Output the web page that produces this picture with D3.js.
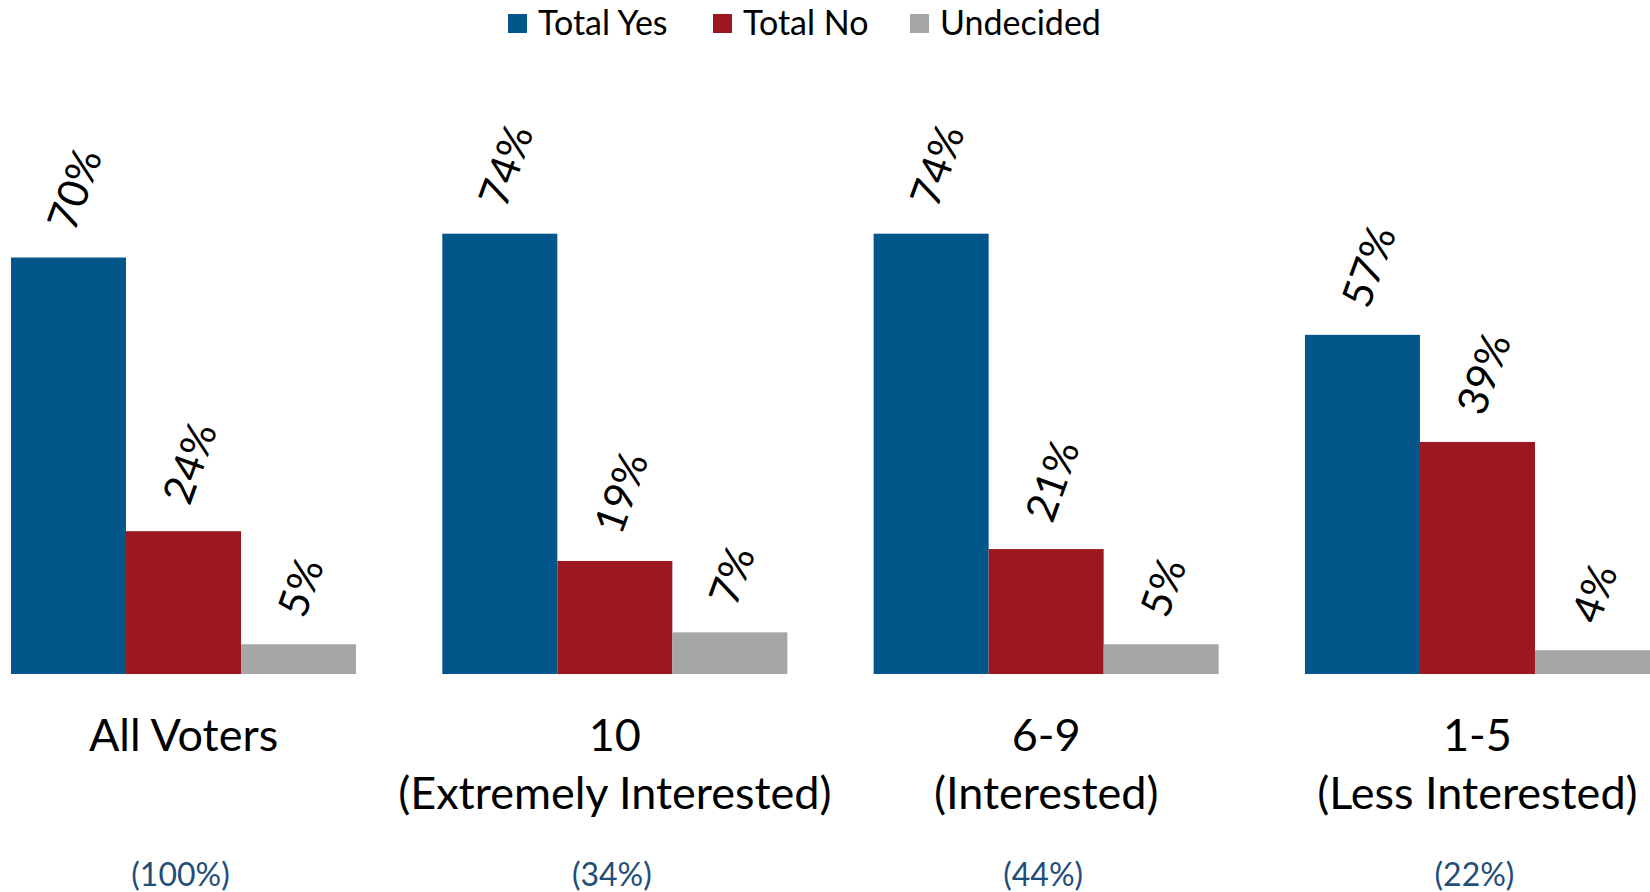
<!DOCTYPE html>
<html>
<head>
<meta charset="utf-8">
<script src="https://cdn.jsdelivr.net/npm/d3@7"></script>
<style>
  body { margin: 0; background: #fff; }
  text { font-family: Lato, "Open Sans", sans-serif; }
</style>
</head>
<body>
<div id="chart"></div>
<script>
// chart data
var groups = ["All Voters", "10", "6-9", "1-5"];
var groupSub = ["", "(Extremely Interested)", "(Interested)", "(Less Interested)"];
var groupShare = ["(100%)", "(34%)", "(44%)", "(22%)"];
var seriesNames = ["Total Yes", "Total No", "Undecided"];
var totalYes = [70, 74, 74, 57];
var totalNo = [24, 19, 21, 39];
var undecided = [5, 7, 5, 4];

var colors = ["#02568A", "#9B191E", "#A6A6A6"];

var svgWidth = 1650;
var svgHeight = 892;

var svg = d3.select("#chart")
  .append("svg")
  .attr("width", svgWidth)
  .attr("height", svgHeight);

// rows for the grouped bars
var rows = groups.map(function(g, i) {
  return { group: g, values: [totalYes[i], totalNo[i], undecided[i]] };
});

var x0 = d3.scaleBand()
  .domain(groups)
  .range([11, 1650])
  .paddingInner(0.2)
  .paddingOuter(0);

var x1 = d3.scaleBand()
  .domain(seriesNames)
  .range([0, x0.bandwidth()]);

var y = d3.scaleLinear()
  .domain([0, 100])
  .range([674, 79]);

var groupG = svg.selectAll("g.group")
  .data(rows)
  .enter()
  .append("g")
  .attr("class", "group")
  .attr("transform", d => `translate(${x0(d.group)},0)`);

var bars = groupG.selectAll("g.bar")
  .data(d => d.values.map((v, j) => ({ key: seriesNames[j], value: v, idx: j })))
  .enter()
  .append("g")
  .attr("class", "bar");

bars.append("rect")
  .attr("x", d => x1(d.key))
  .attr("y", d => y(d.value))
  .attr("width", x1.bandwidth())
  .attr("height", d => y(0) - y(d.value))
  .attr("fill", d => colors[d.idx]);

// rotated value labels
bars.append("text")
  .attr("transform", d => `translate(${x1(d.key) + x1.bandwidth() / 2 - 9},${y(d.value) - 30}) rotate(-70)`)
  .attr("dominant-baseline", "central")
  .style("font-size", "42px")
  .style("fill", "#000")
  .text(d => d.value + "%");

// category labels
var catG = svg.append("g");
groups.forEach(function(g, i) {
  var cx = x0(g) + x0.bandwidth() / 2;
  catG.append("text")
    .attr("x", cx)
    .attr("y", 751)
    .attr("text-anchor", "middle")
    .style("font-size", "45px")
    .style("fill", "#000")
    .text(g);
  if (groupSub[i]) {
    catG.append("text")
      .attr("x", cx)
      .attr("y", 809)
      .attr("text-anchor", "middle")
      .style("font-size", "45px")
      .style("fill", "#000")
      .text(groupSub[i]);
  }
  catG.append("text")
    .attr("x", cx - 3)
    .attr("y", 886)
    .attr("text-anchor", "middle")
    .style("font-size", "32px")
    .style("fill", "#1F4E79")
    .text(groupShare[i]);
});

// legend
var legendX = [508, 713, 910];
var legend = svg.append("g");
seriesNames.forEach(function(name, i) {
  legend.append("rect")
    .attr("x", legendX[i])
    .attr("y", 14)
    .attr("width", 19)
    .attr("height", 19)
    .attr("fill", colors[i]);
  legend.append("text")
    .attr("x", legendX[i] + 30)
    .attr("y", 35)
    .style("font-size", "34px")
    .style("fill", "#000")
    .text(name);
});
</script>
</body>
</html>
